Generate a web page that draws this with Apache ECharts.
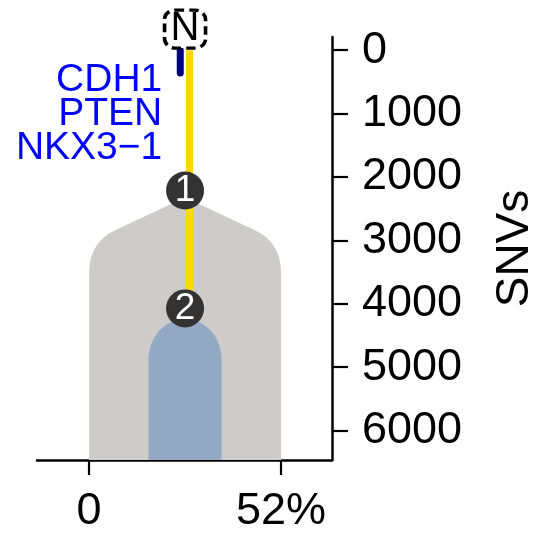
<!DOCTYPE html>
<html>
<head>
<meta charset="utf-8">
<script src="https://cdn.jsdelivr.net/npm/echarts@6/dist/echarts.min.js"></script>
<style>
html,body{margin:0;padding:0;background:#fff;}
#chart{width:553px;height:534px;}
</style>
</head>
<body>
<div id="chart"></div>
<script>
// ---- data ----
const yTickValues = [0, 1000, 2000, 3000, 4000, 5000, 6000];
const xTickValues = [0, 52];
const xTickLabels = ['0', '52%'];
const yAxisName = 'SNVs';

const cloneNames = ['1', '2'];
const cloneCenter = [26, 26];        // % (x centre)
const cloneWidth = [52, 19.8];       // % (x extent)
const cloneNodeSNVs = [2214, 4073];  // y of node
const cloneColors = ['#cdcccb', '#93a8c3'];

const normalLabel = 'N';
const normalSNVs = -333;
const normalX = 26;

const trunkX = 27.2;
const edgeFrom = [0, 2214];
const edgeTo = [2214, 4073];

const driverX = 24.7;
const driverFrom = 0;
const driverTo = 360;
const driverGenes = ['CDH1', 'PTEN', 'NKX3\u22121'];

const X_MIN = -14.1, X_MAX = 65.8;
const Y_MIN = -208, Y_MAX = 6464;

const FONT = '"Liberation Sans", Arial, Helvetica, sans-serif';

const chart = echarts.init(document.getElementById('chart'), null, {renderer: 'canvas'});

function shapeRender(params, api) {
  const cx = api.value(0), w = api.value(1), ny = api.value(2);
  const c = api.coord([cx, ny]);
  const l = api.coord([cx - w / 2, ny])[0];
  const r = api.coord([cx + w / 2, ny])[0];
  const bottom = api.coord([cx, Y_MAX])[1];
  const W = (r - l) / 2;
  const T = c[1] + 7;
  const slope = 2.14;
  const rx = Math.min(26, W * 0.67);
  const y1 = T + (W - rx) / slope;
  const yc = y1 + rx / slope;
  const ye = yc + rx * 1.2;
  const cX = c[0];
  const d = [
    'M', cX, T,
    'L', cX - (W - rx), y1,
    'Q', l, yc, l, ye,
    'L', l, bottom,
    'L', r, bottom,
    'L', r, ye,
    'Q', r, yc, cX + (W - rx), y1,
    'Z'
  ].join(' ');
  return {
    type: 'path',
    shape: {pathData: d},
    style: {fill: cloneColors[params.dataIndex], stroke: null}
  };
}

const edgeSeries = edgeFrom.map((f, i) => ({
  type: 'line',
  data: [[trunkX, f], [trunkX, edgeTo[i]]],
  symbol: 'none',
  lineStyle: {color: '#FFD700', width: 7, cap: 'butt'},
  z: 3,
  silent: true
}));

const option = {
  animation: false,
  backgroundColor: '#ffffff',
  grid: {left: 37, top: 37, width: 295, height: 427, containLabel: false},
  xAxis: {
    type: 'value',
    min: X_MIN, max: X_MAX,
    position: 'bottom',
    splitLine: {show: false},
    axisLine: {show: true, onZero: false, lineStyle: {color: '#000', width: 2.5}},
    axisTick: {show: true, customValues: xTickValues, length: 15, lineStyle: {color: '#000', width: 2.2}},
    axisLabel: {
      show: true, customValues: xTickValues, margin: 29,
      formatter: v => xTickLabels[xTickValues.indexOf(v)],
      color: '#000', fontSize: 45, fontFamily: FONT
    }
  },
  yAxis: {
    type: 'value',
    inverse: true,
    min: Y_MIN, max: Y_MAX,
    position: 'right',
    splitLine: {show: false},
    axisLine: {show: true, onZero: false, lineStyle: {color: '#000', width: 2.5}},
    axisTick: {show: true, customValues: yTickValues, length: 16, lineStyle: {color: '#000', width: 2.2}},
    axisLabel: {
      show: true, customValues: yTickValues, margin: 30,
      padding: [6, 0, 0, 0],
      formatter: v => String(v),
      color: '#000', fontSize: 45, fontFamily: FONT
    },
    name: yAxisName,
    nameLocation: 'middle',
    nameRotate: 90,
    nameGap: 160,
    nameTextStyle: {color: '#000', fontSize: 46, fontFamily: FONT}
  },
  series: [
    {
      type: 'custom',
      renderItem: shapeRender,
      data: cloneNames.map((n, i) => [cloneCenter[i], cloneWidth[i], cloneNodeSNVs[i]]),
      z: 1,
      silent: true,
      clip: true
    },
    ...edgeSeries,
    {
      type: 'line',
      data: [[driverX, driverFrom], [driverX, driverTo]],
      symbol: 'none',
      lineStyle: {color: '#000080', width: 7, cap: 'round', opacity: 1},
      z: 3,
      silent: true
    },
    {
      type: 'scatter',
      data: [[driverX, driverFrom]],
      symbolSize: 0,
      itemStyle: {opacity: 1},
      z: 5,
      silent: true,
      label: {
        show: true,
        position: [-18, 13],
        align: 'right',
        verticalAlign: 'top',
        formatter: () => driverGenes.join('\n'),
        color: '#0000FF',
        opacity: 1,
        fontSize: 39,
        lineHeight: 34,
        fontFamily: FONT
      }
    },
    {
      type: 'scatter',
      data: cloneNames.map((n, i) => ({name: n, value: [cloneCenter[i], cloneNodeSNVs[i]]})),
      symbol: 'circle',
      symbolSize: 38,
      itemStyle: {color: '#333333', opacity: 1},
      z: 6,
      silent: true,
      label: {
        show: true, position: 'inside',
        formatter: p => p.name,
        color: '#ffffff', opacity: 1, fontSize: 37, fontFamily: FONT
      }
    },
    {
      type: 'scatter',
      clip: false,
      data: [{name: normalLabel, value: [normalX, normalSNVs]}],
      symbol: 'roundRect',
      symbolSize: [41, 38],
      itemStyle: {color: '#ffffff', opacity: 1, borderColor: '#000', borderWidth: 3.5, borderType: [9, 5]},
      z: 7,
      silent: true,
      label: {
        show: true, position: 'inside',
        formatter: p => p.name,
        color: '#000', opacity: 1, fontSize: 40, fontFamily: FONT
      }
    }
  ]
};

chart.setOption(option);
</script>
</body>
</html>
